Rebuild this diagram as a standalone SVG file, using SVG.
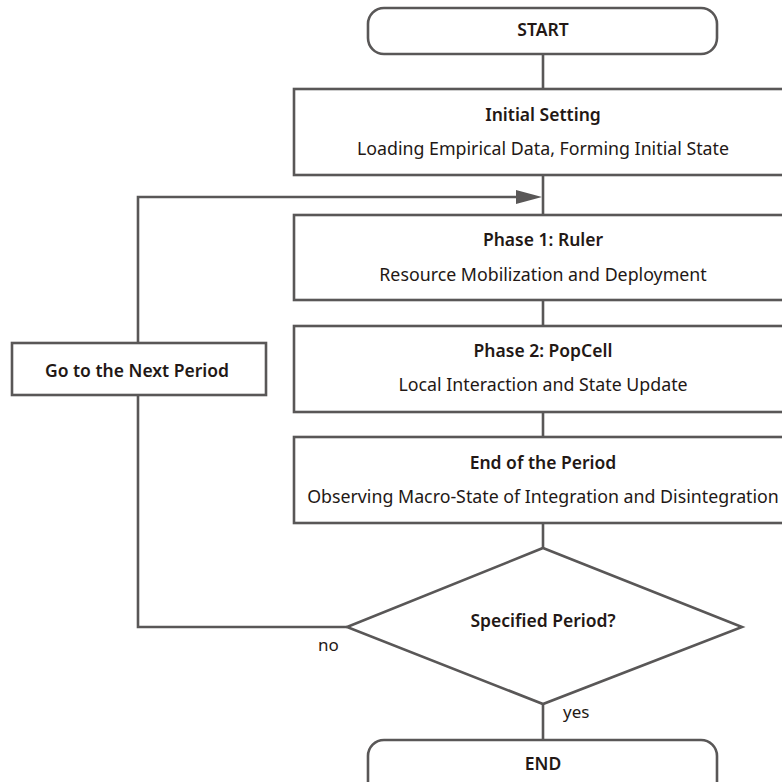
<svg xmlns="http://www.w3.org/2000/svg" width="782" height="782" viewBox="0 0 782 782">
<defs>
<style>
.box{fill:#fff;stroke:#595757;stroke-width:2.6}
.ln{fill:none;stroke:#595757;stroke-width:2.6}
text{font-family:"Noto Sans","Open Sans",sans-serif;fill:#231815;text-anchor:middle}
.t{font-size:17.5px;font-weight:600}
.s{font-size:17.8px}
.l{font-size:17px;text-anchor:start}
</style>
</defs>
<g id="connectors">
<line class="ln" x1="543" y1="54" x2="543" y2="89"/>
<line class="ln" x1="543" y1="175" x2="543" y2="215"/>
<line class="ln" x1="543" y1="300" x2="543" y2="326"/>
<line class="ln" x1="543" y1="412" x2="543" y2="437"/>
<line class="ln" x1="543" y1="523" x2="543" y2="548"/>
<line class="ln" x1="543" y1="704" x2="543" y2="740"/>
<polyline class="ln" points="347,627 138,627 138,197 520,197"/>
<path d="M516,190 L542,197 L516,204 Z" fill="#595757"/>
</g>
<g id="start">
<rect class="box" x="368" y="8" width="349" height="46" rx="16"/>
<text class="t" x="543" y="36">START</text>
</g>
<g id="initial">
<rect class="box" x="294" y="89" width="520" height="86"/>
<text class="t" x="543" y="121">Initial Setting</text>
<text class="s" x="543" y="155">Loading Empirical Data, Forming Initial State</text>
</g>
<g id="phase1">
<rect class="box" x="294" y="215" width="520" height="85"/>
<text class="t" x="543" y="246">Phase 1: Ruler</text>
<text class="s" x="543" y="281">Resource Mobilization and Deployment</text>
</g>
<g id="phase2">
<rect class="box" x="294" y="326" width="520" height="86"/>
<text class="t" x="543" y="357">Phase 2: PopCell</text>
<text class="s" x="543" y="391">Local Interaction and State Update</text>
</g>
<g id="endperiod">
<rect class="box" x="294" y="437" width="520" height="86"/>
<text class="t" x="543" y="469">End of the Period</text>
<text class="s" x="543" y="503">Observing Macro-State of Integration and Disintegration</text>
</g>
<g id="decision">
<polygon class="box" points="543,548 742,627 543,704 347,627"/>
<text class="t" x="543" y="627">Specified Period?</text>
</g>
<g id="next">
<rect class="box" x="12" y="343" width="254" height="52"/>
<text class="t" x="137" y="377">Go to the Next Period</text>
</g>
<g id="end">
<rect class="box" x="368" y="740" width="349" height="60" rx="16"/>
<text class="t" x="543" y="770">END</text>
</g>
<g id="labels">
<text class="l" x="318" y="651">no</text>
<text class="l" x="563" y="718">yes</text>
</g>
</svg>
